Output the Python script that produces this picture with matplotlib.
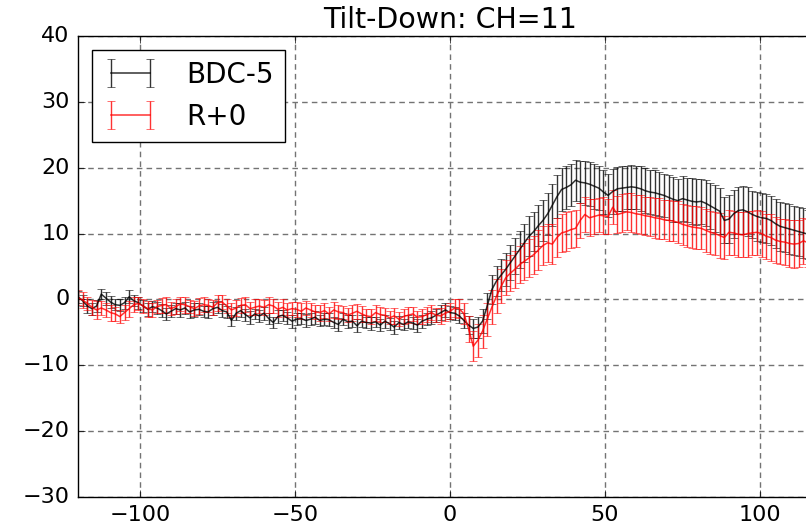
import numpy as np
import matplotlib
matplotlib.use("Agg")
import matplotlib.pyplot as plt

plt.style.use("classic")

title = "Tilt-Down: CH=11"
labels = ["BDC-5", "R+0"]
xticks = [-100, -50, 0, 50, 100]
yticks = [-30, -20, -10, 0, 10, 20, 30, 40]

x = np.arange(-120, 120.1, 1.5)

bdc_mean = [
    0.4, -0.2, -1.0, -1.4, -1.0, 0.8, 0.2, -0.4, -0.8, -0.9,
    -0.5, 0.4, -0.2, -0.5, -1.0, -1.5, -1.1, -1.3, -1.7, -2.2,
    -1.8, -1.4, -1.6, -1.3, -1.9, -1.6, -1.5, -1.8, -1.9, -1.4,
    -1.2, -1.7, -1.9, -3.2, -2.1, -1.7, -2.3, -2.8, -2.2, -2.5,
    -2.1, -2.9, -3.5, -2.6, -2.4, -2.8, -3.3, -3.0, -2.9, -3.2,
    -3.0, -2.7, -3.2, -3.0, -3.1, -3.5, -3.8, -3.0, -3.4, -3.3,
    -4.0, -3.3, -3.5, -3.6, -3.4, -3.9, -3.3, -3.7, -4.2, -3.5,
    -3.8, -3.4, -3.6, -3.9, -3.3, -3.0, -2.8, -2.4, -2.0, -1.6,
    -2.0, -2.1, -2.5, -3.2, -3.9, -4.4, -4.2, -3.3, -1.0, 1.5,
    2.8, 3.7, 4.6, 5.6, 6.6, 7.6, 8.6, 9.6, 10.3, 11.2,
    12.0, 13.0, 14.3, 15.6, 16.7, 17.0, 17.4, 18.1, 17.8, 17.7,
    17.5, 17.2, 16.9, 16.3, 15.8, 16.4, 16.8, 16.9, 17.0, 17.1,
    17.0, 16.8, 16.5, 16.3, 16.2, 16.0, 15.8, 15.5, 15.2, 15.0,
    15.3, 15.1, 14.9, 14.8, 14.9, 14.6, 14.2, 13.8, 13.4, 12.0,
    12.2, 13.0, 13.5, 13.6, 13.3, 12.9, 12.6, 12.4, 12.3, 12.0,
    11.5, 11.1, 10.9, 10.7, 10.5, 10.3, 10.1, 9.9, 9.8, 9.7,
    9.6,
]
bdc_err = [
    0.9, 0.8, 1.0, 0.9, 0.9, 0.8, 1.0, 0.9, 0.8, 0.9,
    0.9, 1.0, 0.8, 0.9, 0.9, 1.0, 0.8, 0.9, 1.0, 0.9,
    0.9, 0.8, 1.0, 0.9, 0.9, 1.0, 0.9, 0.8, 0.9, 1.0,
    0.9, 1.0, 0.9, 0.8, 1.0, 0.9, 0.9, 1.0, 0.8, 0.9,
    1.0, 0.9, 0.9, 1.0, 0.8, 0.9, 1.0, 0.9, 0.8, 1.0,
    0.9, 1.0, 0.9, 0.9, 1.0, 0.9, 1.0, 0.9, 1.0, 0.9,
    1.0, 0.9, 0.9, 1.0, 0.8, 0.9, 1.0, 0.9, 1.0, 1.0,
    0.9, 1.0, 0.9, 1.0, 1.0, 0.9, 1.0, 1.0, 1.1, 1.1,
    1.0, 1.0, 1.1, 1.2, 1.4, 1.5, 1.6, 1.8, 2.0, 2.2,
    2.3, 2.4, 2.5, 2.6, 2.7, 2.8, 2.9, 3.0, 3.0, 3.1,
    3.1, 3.2, 3.2, 3.3, 3.2, 3.3, 3.2, 3.1, 3.2, 3.3,
    3.3, 3.4, 3.3, 3.4, 3.3, 3.4, 3.3, 3.4, 3.3, 3.3,
    3.3, 3.4, 3.4, 3.3, 3.4, 3.4, 3.3, 3.4, 3.4, 3.3,
    3.4, 3.4, 3.5, 3.5, 3.4, 3.5, 3.5, 3.6, 3.5, 3.5,
    3.6, 3.6, 3.6, 3.6, 3.7, 3.6, 3.7, 3.7, 3.7, 3.7,
    3.7, 3.7, 3.7, 3.8, 3.7, 3.7, 3.8, 3.7, 3.7, 3.7,
    3.7,
]
r0_mean = [
    0.3, -0.1, -0.6, -1.2, -1.6, -1.3, -1.6, -2.0, -2.2, -2.6,
    -2.0, -1.4, -0.8, -0.6, -1.0, -1.4, -1.6, -1.1, -0.9, -0.8,
    -1.4, -1.1, -0.7, -0.8, -1.1, -1.4, -1.0, -0.8, -0.9, -1.2,
    -0.5, -0.4, -1.0, -1.6, -1.3, -0.9, -0.8, -1.4, -1.2, -1.0,
    -1.2, -0.8, -1.0, -1.5, -1.2, -1.6, -1.4, -1.5, -1.8, -1.3,
    -1.6, -1.9, -2.0, -1.7, -2.2, -1.6, -1.9, -2.0, -2.4, -2.1,
    -1.8, -2.2, -2.5, -2.6, -2.0, -2.3, -2.4, -2.8, -2.5, -3.0,
    -2.6, -2.4, -2.2, -2.7, -2.6, -2.3, -2.0, -2.4, -2.5, -2.1,
    -1.8, -1.3, -1.4, -2.2, -4.5, -7.1, -6.2, -4.8, -3.0, -1.2,
    0.5, 2.0, 3.3, 4.0, 4.6, 5.3, 5.8, 6.3, 6.8, 7.5,
    8.2, 8.6, 8.4, 9.4, 10.1, 10.3, 10.6, 10.8, 12.0, 12.9,
    12.4, 12.6, 12.8, 12.7, 12.6, 14.0, 12.9, 13.1, 13.3, 13.2,
    13.0, 12.9, 12.7, 12.6, 12.4, 12.3, 12.1, 12.0, 11.9, 11.7,
    11.4, 11.2, 11.0, 10.9, 10.8, 10.5, 10.2, 10.0, 9.7, 9.4,
    10.2, 10.1, 9.9, 9.8, 10.0, 10.1, 10.2, 10.0, 9.6, 9.4,
    9.0, 8.8, 8.7, 8.5, 8.4, 8.5, 8.9, 8.6, 8.4, 8.3,
    8.2,
]
r0_err = [
    1.1, 1.2, 1.0, 1.1, 1.3, 1.1, 1.0, 1.2, 1.1, 1.0,
    1.1, 1.2, 1.1, 1.0, 1.1, 1.2, 1.1, 1.0, 1.1, 1.2,
    1.0, 1.1, 1.1, 1.2, 1.0, 1.1, 1.2, 1.1, 1.0, 1.1,
    1.2, 1.1, 1.0, 1.1, 1.2, 1.1, 1.1, 1.0, 1.2, 1.1,
    1.1, 1.2, 1.0, 1.1, 1.2, 1.1, 1.0, 1.1, 1.2, 1.1,
    1.1, 1.0, 1.2, 1.1, 1.1, 1.2, 1.1, 1.0, 1.1, 1.2,
    1.1, 1.2, 1.0, 1.1, 1.2, 1.1, 1.1, 1.0, 1.2, 1.1,
    1.1, 1.2, 1.1, 1.0, 1.1, 1.2, 1.1, 1.1, 1.2, 1.2,
    1.2, 1.3, 1.4, 1.6, 2.0, 2.3, 2.5, 2.5, 2.5, 2.6,
    2.6, 2.6, 2.7, 2.7, 2.8, 2.8, 2.8, 2.9, 2.9, 3.0,
    3.0, 2.9, 3.0, 3.0, 2.9, 2.9, 2.8, 2.8, 2.7, 2.6,
    2.8, 2.7, 2.6, 2.8, 2.7, 2.6, 2.8, 2.9, 2.8, 2.9,
    2.9, 3.0, 2.9, 3.0, 3.0, 3.1, 3.0, 3.1, 3.1, 3.2,
    3.1, 3.2, 3.2, 3.3, 3.2, 3.3, 3.3, 3.2, 3.4, 3.3,
    3.4, 3.3, 3.4, 3.4, 3.5, 3.4, 3.4, 3.5, 3.4, 3.5,
    3.5, 3.4, 3.5, 3.5, 3.6, 3.5, 3.5, 3.6, 3.5, 3.5,
    3.5,
]

fig = plt.figure(figsize=(8.06, 5.27), dpi=100, facecolor="white")
ax = fig.add_axes([78 / 806, 30 / 527, 744 / 806, 461 / 527])
ax.set_facecolor("white")

ax.errorbar(x, bdc_mean, yerr=bdc_err, color="k", ecolor="k", lw=1.1,
            elinewidth=1.0, capsize=3, alpha=0.8, label=labels[0])
ax.errorbar(x, r0_mean, yerr=r0_err, color="r", ecolor="r", lw=1.1,
            elinewidth=1.0, capsize=3, alpha=0.8, label=labels[1])

ax.set_xlim(-120, 120)
ax.set_ylim(-30, 40)
ax.set_xticks(xticks)
ax.set_yticks(yticks)
ax.tick_params(labelsize=16, direction="in", length=5, top=True, right=True, pad=6)
ax.grid(True, color="0.45", linestyle=(0, (4, 3)), linewidth=1.0)
ax.set_axisbelow(True)
ax.set_title(title, fontsize=20.5, pad=6)

leg = ax.legend(loc="upper left", fontsize=20, numpoints=2, fancybox=False,
                borderaxespad=0.5, handlelength=2.0, handletextpad=1.0)
leg.get_frame().set_edgecolor("k")
leg.get_frame().set_linewidth(1.0)

fig.savefig("out.png", dpi=100, facecolor="white")
